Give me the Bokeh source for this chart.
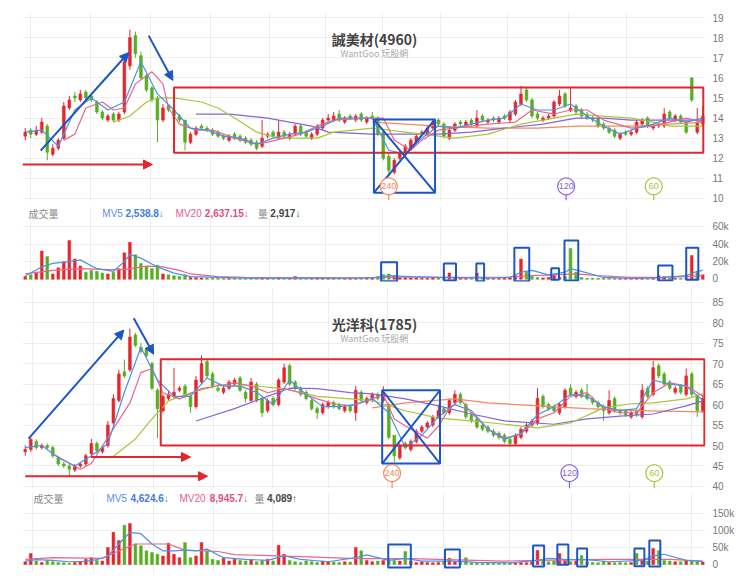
from bokeh.plotting import figure
from bokeh.layouts import column
from bokeh.models import Range1d, FixedTicker, Label, Arrow, NormalHead
from bokeh.embed import file_html
from bokeh.resources import INLINE

# ================= 誠美材 (4960) =================
s1_title = "誠美材(4960)"
s1_open = [13.1,13.4,13.2,13.3,13.6,12.2,12.5,13.0,14.5,15.1,
           14.9,15.3,15.1,14.8,14.3,13.9,14.2,13.9,14.3,16.6,
           18.1,17.1,16.1,15.5,15.0,13.9,14.6,14.4,14.1,13.9,
           12.8,13.2,13.6,13.5,13.4,13.3,13.1,12.9,13.2,13.1,
           13.0,12.9,12.8,12.6,13.1,13.3,13.0,13.3,13.0,13.2,
           13.6,13.3,13.0,13.2,13.5,13.9,13.9,14.2,13.8,14.1,
           13.9,14.2,13.8,14.1,14.0,13.3,12.1,11.3,12.0,12.3,
           12.5,12.8,13.2,13.2,13.5,13.9,13.7,13.0,13.4,13.8,
           13.6,13.9,13.6,14.1,13.8,14.0,13.8,14.1,13.9,14.2,
           14.7,15.4,14.9,14.2,13.9,14.0,14.1,14.7,15.2,14.4,
           14.6,14.4,14.2,14.0,14.0,13.7,13.5,13.4,13.0,13.3,
           13.2,13.3,13.7,14.0,13.5,13.6,13.6,14.3,13.9,14.1,
           13.8,16.0,13.3,13.7]
s1_high = [13.5,13.5,13.6,14.0,13.7,12.7,13.0,14.8,15.1,15.3,
           15.4,15.4,15.2,14.9,14.4,14.2,14.3,14.3,17.0,18.4,
           18.3,17.3,16.2,15.6,15.1,14.7,14.7,14.5,14.2,13.9,
           13.3,13.6,13.7,13.6,13.5,13.4,13.2,13.2,13.3,13.2,
           13.1,13.0,12.9,13.9,13.3,13.4,13.9,13.4,13.3,13.7,
           13.7,13.4,13.3,13.7,14.0,14.2,14.3,14.4,14.1,14.2,
           14.2,14.3,14.1,14.3,14.1,13.4,12.3,12.0,12.4,12.7,
           13.0,13.2,13.4,13.6,13.9,14.0,13.8,13.5,13.8,13.9,
           13.9,14.0,14.4,14.2,14.0,14.1,14.1,14.2,14.4,14.9,
           15.6,15.5,15.0,14.3,14.1,14.2,14.9,15.4,15.3,15.5,
           14.7,14.5,14.3,14.1,14.0,13.8,13.6,13.5,13.3,13.4,
           13.4,13.9,14.0,14.1,13.7,13.8,14.5,14.4,14.2,14.2,
           13.9,16.0,14.5,14.6]
s1_low = [12.9,13.0,13.1,13.2,11.9,12.1,12.4,12.9,14.4,14.8,
          14.8,14.9,14.8,14.2,13.9,13.8,13.8,13.8,14.2,16.4,
          17.0,15.9,15.3,14.8,12.8,13.8,14.3,14.0,13.8,12.4,
          12.7,13.1,13.4,13.3,13.1,13.0,12.9,12.8,12.9,12.8,
          12.7,12.6,12.4,12.5,13.0,13.0,12.9,13.0,12.9,13.1,
          13.1,13.0,12.9,13.1,13.4,13.8,13.8,13.8,13.7,13.9,
          13.8,13.8,13.7,13.9,13.1,11.9,11.1,11.2,11.9,12.2,
          12.4,12.7,13.1,13.1,13.4,13.6,13.0,12.9,13.3,13.6,
          13.5,13.6,13.5,13.8,13.7,13.8,13.7,13.9,13.8,14.1,
          14.6,14.8,14.0,13.9,13.8,13.9,14.0,14.6,14.5,14.3,
          14.2,14.0,13.9,13.8,13.5,13.4,13.2,13.0,12.9,13.1,
          13.1,13.2,13.6,13.5,13.4,13.5,13.5,13.9,13.8,13.7,
          13.2,14.8,13.2,13.6]
s1_close = [13.3,13.2,13.4,13.8,12.3,12.5,12.9,14.6,14.9,15.0,
            15.2,15.0,14.9,14.3,14.0,14.1,13.9,14.2,16.8,18.0,
            17.2,16.0,15.4,14.9,13.9,14.5,14.4,14.1,13.9,12.8,
            13.2,13.5,13.5,13.4,13.2,13.1,13.0,13.1,13.0,12.9,
            12.8,12.7,12.5,13.0,13.2,13.1,13.3,13.1,13.2,13.6,
            13.2,13.1,13.2,13.6,13.9,14.0,14.1,13.9,14.0,14.0,
            14.1,13.9,14.0,14.0,13.2,12.0,11.4,11.9,12.3,12.6,
            12.9,13.1,13.3,13.5,13.8,13.7,13.1,13.4,13.7,13.7,
            13.8,13.7,14.0,13.9,13.9,13.9,14.0,14.0,14.3,14.8,
            15.2,14.9,14.1,14.0,14.0,14.1,14.8,15.1,14.6,14.5,
            14.3,14.1,14.0,13.9,13.6,13.5,13.3,13.1,13.2,13.2,
            13.3,13.8,13.9,13.6,13.6,13.7,14.2,14.0,14.1,13.8,
            13.3,14.9,13.8,14.1]
s1_vol_k = [3,5,8,32,26,6,13,20,44,23,
            15,8,10,9,7,6,8,12,30,42,
            28,18,14,12,16,6,5,4,3,5,
            2,2,1.5,1.5,1,1,1,1,1.5,1,
            1,1,1.5,2,1,1,2,1,1,3,
            1,1,1,2,2,1.5,1,1.5,1,1,
            1,1,1,1.5,3,5,6,4,2,2,
            1.5,1.5,1,1,2,1.5,2,7,2,1.5,
            1,1,7,1.5,1,1,1,1.5,2,4,
            23,8,3,2,1.5,2,5,2,3,35,
            8,2,1,1,1,1,1,1,1,1,
            1,1,1,1,1,4,3,1,1,1,
            1.5,27,8,5]
s1_ma5_days = [0,3,6,9,12,15,18,21,24,27,30,33,36,39,42,45,48,51,54,57,60,63,66,69,72,75,78,81,84,87,90,93,96,99,102,105,108,111,114,117,120,123]
s1_ma5 = [13.3,13.4,12.6,14.4,15.0,14.4,14.8,16.8,15.2,14.4,13.5,13.4,13.1,13.0,12.7,13.0,13.2,13.3,13.6,14.0,14.0,14.0,12.4,12.2,13.0,13.6,13.5,13.7,13.9,14.0,14.7,14.4,14.4,14.7,14.1,13.6,13.2,13.5,13.7,14.0,13.8,14.0]
s1_ma20_days = [7,9,11,14,16,18,20,23,25,26,28,31,34,38,42,44,47,50,53,56,62,65,67,70,72,75,78,84,89,92,96,99,102,105,110,114,120,123]
s1_ma20 = [12.9,13.2,14.5,14.8,14.4,14.5,15.7,16.3,15.7,14.5,13.7,13.4,13.4,13.0,12.7,12.8,13.0,13.2,13.6,13.9,14.0,14.0,12.9,12.4,12.9,13.4,13.5,13.7,13.8,14.4,14.2,14.4,14.4,13.9,13.5,13.6,14.0,13.8]
s1_ma60_days = [16,19,22,24,27,32,35,38,42,46,50,53,56,63,69,78,84,90,100,105,110,114,117,123]
s1_ma60 = [13.8,14.1,14.8,15.0,15.0,14.8,14.5,14.0,13.3,13.0,13.0,13.0,13.3,13.5,13.3,13.0,13.2,13.7,14.2,14.1,14.0,13.8,13.6,13.6]
s1_ma120_days = [31,37,44,52,55,63,69,75,81,87,94,100,105,110,117,123]
s1_ma120 = [14.2,14.2,14.0,13.6,13.3,13.2,13.2,13.2,13.3,13.5,13.7,14.0,14.0,13.9,13.9,13.9]
s1_ma240_days = [63,75,84,93,100,111,123]
s1_ma240 = [13.8,13.6,13.5,13.5,13.6,13.6,13.8]
s1_vma5_days = [0,3,5,8,10,13,16,18,19,21,24,27,30,35,40,50,60,64,66,70,75,80,85,88,90,92,95,98,99,101,105,110,115,120,122,123]
s1_vma5 = [4,14,18,20,22,12,9,20,28,24,14,7,3,2,1.2,1.5,1.2,2,4,3,2,1.5,1.5,2,8,10,5,8,12,9,2,1,1.5,4,9,10]
s1_vma20_days = [0,5,10,15,18,20,22,25,28,30,35,40,50,60,65,70,80,88,92,96,100,104,110,115,120,123]
s1_vma20 = [6,10,12,11,11,13,15,14,10,6,3,2,1.5,1.5,2,2.5,2,2.5,4,5,6,4,2,2,3,4]
s1_vol_names = ["MV5", "MV20", "量"]
s1_vol_values = ["2,538.8↓", "2,637.15↓", "2,917↓"]
s1_price_ticks = [10, 11, 12, 13, 14, 15, 16, 17, 18, 19]
s1_vol_ticks = [0, 20, 40, 60]
s1_vol_tick_labels = {0: "0", 20: "20k", 40: "40k", 60: "60k"}
s1_month_days = [1, 11.9, 22.8, 33.7, 44.4, 54.6, 64.9, 75.3, 87.5, 98.6, 109.1]

# ================= 光洋科 (1785) =================
s2_title = "光洋科(1785)"
s2_open = [48.5,49.0,51.0,49.5,50.0,49.5,47.0,45.5,45.0,44.0,
           45.0,45.5,48.0,50.5,48.5,50.0,55.5,61.0,68.0,68.5,
           77.0,74.0,73.5,70.0,63.5,58.5,61.5,62.0,63.5,64.5,
           62.0,59.5,65.5,70.5,67.5,64.0,63.0,64.0,65.0,66.5,
           63.0,61.0,65.0,61.5,58.5,61.5,60.0,65.5,69.5,65.5,
           64.0,63.0,61.0,59.0,58.0,59.5,60.5,60.0,58.5,59.5,
           58.0,63.0,60.5,61.0,62.5,61.0,60.0,52.5,47.0,50.5,
           49.0,51.0,53.5,54.5,55.0,57.0,59.0,58.0,60.5,62.5,
           60.0,57.5,56.5,55.0,54.5,53.5,53.0,52.5,51.5,50.5,
           52.0,53.5,55.0,55.5,62.0,60.0,59.5,58.0,59.5,64.0,
           62.0,63.5,62.5,61.5,60.5,59.5,58.0,61.5,58.5,58.5,
           57.0,58.5,57.0,64.0,62.5,69.5,67.5,65.5,63.0,64.5,
           62.5,67.5,62.0,58.5]
s2_high = [50.0,52.0,51.5,50.5,50.5,50.0,47.5,46.0,45.5,45.5,
           46.0,48.0,51.6,51.0,50.0,56.0,62.5,68.5,71.0,78.6,
           77.5,75.0,74.0,70.5,64.0,62.5,63.5,69.0,64.5,65.0,
           62.5,67.0,72.0,71.0,68.0,65.0,64.5,66.0,66.5,67.0,
           63.5,66.5,65.5,62.0,61.5,62.0,66.5,70.0,70.0,66.0,
           64.5,63.5,61.5,59.5,60.5,61.0,61.0,60.5,60.0,60.0,
           64.6,63.5,62.0,63.0,63.0,64.5,60.5,52.5,50.5,51.0,
           51.5,54.0,55.0,56.0,57.5,60.0,59.5,61.5,63.5,63.0,
           60.5,58.0,57.0,55.5,55.0,54.0,53.5,53.0,52.0,53.0,
           54.5,55.5,56.5,64.0,62.5,60.5,60.0,60.5,64.0,65.0,
           63.5,64.0,65.0,62.0,61.0,60.0,63.5,62.0,59.0,59.0,
           58.5,59.0,65.0,64.5,70.7,70.0,68.0,66.0,64.5,65.0,
           68.8,68.0,62.5,62.5]
s2_low = [47.5,48.5,49.0,49.0,49.0,47.0,45.0,44.5,42.5,43.5,
          44.5,45.0,47.5,48.0,48.0,49.5,55.0,60.5,66.5,68.0,
          74.0,72.5,71.5,63.5,51.8,58.0,61.0,61.5,63.0,61.5,
          58.0,59.0,65.0,66.5,64.0,63.0,62.5,63.5,64.5,63.0,
          60.5,60.5,60.5,57.0,58.0,59.5,59.5,65.0,64.5,63.5,
          62.0,61.0,58.5,56.5,57.5,59.0,59.0,58.5,58.0,58.0,
          56.0,60.5,60.0,60.5,61.0,60.5,51.5,46.0,46.5,49.0,
          48.5,50.5,53.0,54.0,54.5,56.5,57.5,57.5,60.0,60.0,
          56.5,55.5,54.0,53.5,53.0,52.0,51.5,50.5,49.8,50.0,
          51.5,53.0,54.5,55.0,59.0,58.5,58.0,57.5,59.0,62.0,
          61.5,61.5,61.0,60.0,59.0,56.0,57.5,58.0,57.5,57.0,
          56.5,57.0,56.5,61.5,62.0,66.5,64.5,63.5,62.5,62.5,
          62.0,62.0,57.0,58.0]
s2_close = [49.0,51.5,49.5,50.0,49.5,47.5,45.5,45.0,44.2,45.0,
            45.5,47.5,50.5,48.8,49.5,55.0,61.5,67.5,67.0,76.5,
            74.5,73.0,72.0,64.0,59.0,62.0,62.5,63.0,64.0,62.0,
            59.5,66.0,70.0,67.0,64.5,63.5,64.0,65.5,66.0,63.5,
            61.5,65.5,61.0,58.0,61.0,60.0,66.0,69.0,65.0,64.0,
            62.5,61.5,59.0,58.0,60.0,60.5,59.5,59.0,59.5,58.5,
            63.5,61.0,61.5,62.5,61.5,63.0,52.0,47.5,50.0,49.5,
            51.0,53.5,54.5,55.5,57.0,58.5,58.0,61.0,62.5,60.5,
            57.0,56.0,54.5,54.0,53.5,52.5,52.0,51.0,50.5,52.5,
            54.0,55.0,56.0,61.5,59.5,59.0,58.5,60.0,63.5,62.5,
            63.0,62.0,61.5,60.5,59.5,58.5,61.0,58.5,58.0,57.5,
            58.0,57.5,63.5,62.0,69.0,67.0,65.0,64.0,64.0,63.0,
            67.0,62.5,58.5,61.5]
s2_vol_k = [8,32,10,6,12,8,6,5,4,6,
            8,15,20,12,10,50,94,70,115,120,
            60,55,40,35,30,25,62,30,20,64,
            20,25,64,40,15,12,18,10,15,12,
            10,14,8,12,15,10,56,30,12,8,
            6,10,8,6,10,8,7,6,8,7,
            50,40,12,8,10,12,15,12,10,38,
            10,6,8,6,5,6,8,18,8,6,
            20,5,5,4,5,4,4,5,6,5,
            6,5,8,41,15,8,10,32,12,8,
            10,26,8,6,5,10,6,5,6,5,
            6,32,15,10,47,40,12,10,8,8,
            10,12,8,7]
s2_ma5_days = s1_ma5_days
s2_ma5 = [49.5,50.0,47.0,45.0,47.5,50.5,63.0,74.0,66.0,62.0,62.0,66.5,64.5,64.5,63.0,60.0,66.0,62.5,59.5,59.5,60.0,61.5,58.0,49.5,52.5,57.0,60.0,58.5,54.0,51.5,53.0,57.5,59.5,62.5,62.0,59.5,58.5,59.0,66.0,65.0,64.5,61.0]
s2_ma20_days = [5,10,12,15,19,21,23,25,28,32,35,38,41,44,47,50,53,56,59,62,65,67,70,73,75,77,79,81,84,87,90,93,96,99,102,105,108,111,114,117,120,123]
s2_ma20 = [48.0,44.2,45.6,52.0,60.4,67.8,68.8,62.9,61.4,63.9,64.6,65.3,64.6,62.9,63.9,62.9,61.4,60.2,59.7,60.9,62.4,56.5,54.0,51.8,54.7,59.0,61.4,58.0,54.0,51.8,52.8,56.5,58.0,62.0,62.9,59.0,58.0,58.0,62.9,65.3,64.6,62.1]
s2_ma60_days = [16,20,23,26,30,35,41,47,53,59,63,69,75,81,87,93,99,105,110,114,120,123]
s2_ma60 = [47.4,51.6,56.5,60.9,62.9,64.6,64.6,63.9,62.0,61.4,61.0,58.5,56.7,56.0,55.2,54.3,55.5,59.2,60.2,60.4,61.4,62.6]
s2_ma120_days = [31,38,44,48,53,59,63,69,75,81,87,96,102,108,114,120,123]
s2_ma120 = [56.0,59.0,62.0,64.0,63.9,62.9,62.6,61.4,59.7,57.7,56.0,55.2,56.5,57.2,57.7,59.7,60.9]
s2_ma240_days = [63,69,78,84,93,102,111,123]
s2_ma240 = [59.2,60.4,61.4,60.4,59.7,59.0,58.5,58.2]
s2_vma5_days = [0,2,5,8,11,13,15,17,19,21,23,25,27,29,31,33,36,40,44,47,50,55,60,62,66,69,72,78,82,88,93,95,98,102,106,112,114,116,120,123]
s2_vma5 = [10,14,12,8,9,14,25,60,94,90,60,40,40,42,40,45,20,15,12,25,15,8,20,28,12,18,10,10,6,5,12,18,15,14,8,12,25,30,12,9]
s2_vma20_days = [0,5,14,17,20,26,29,35,38,50,59,63,70,75,87,93,105,117,123]
s2_vma20 = [15,20,18,40,60,60,42,38,29,23,18,17,17,15,10,12,15,15,10]
s2_vol_names = ["MV5", "MV20", "量"]
s2_vol_values = ["4,624.6↓", "8,945.7↓", "4,089↑"]
s2_price_ticks = [40, 45, 50, 55, 60, 65, 70, 75, 80, 85]
s2_vol_ticks = [0, 50, 100, 150]
s2_vol_tick_labels = {0: "0", 50: "50k", 100: "100k", 150: "150k"}
s2_month_days = [1.3, 12.4, 23.3, 34.2, 44.9, 55.1, 65.7, 76.0, 87.9, 99.1, 109.7, 121.0]

for arrs in [(s1_open, s1_high, s1_low, s1_close, s1_vol_k), (s2_open, s2_high, s2_low, s2_close, s2_vol_k)]:
    for a in arrs:
        assert len(a) == 124, len(a)
for a, b in [(s1_ma5_days, s1_ma5), (s1_ma20_days, s1_ma20), (s1_ma60_days, s1_ma60), (s1_ma120_days, s1_ma120),
             (s1_ma240_days, s1_ma240), (s1_vma5_days, s1_vma5), (s1_vma20_days, s1_vma20),
             (s2_ma5_days, s2_ma5), (s2_ma20_days, s2_ma20), (s2_ma60_days, s2_ma60), (s2_ma120_days, s2_ma120),
             (s2_ma240_days, s2_ma240), (s2_vma5_days, s2_vma5), (s2_vma20_days, s2_vma20)]:
    assert len(a) == len(b), (len(a), len(b))

# ================= styling =================
RED = "#e5262c"
GREEN = "#58ad22"
C_MA5 = "#4d92e6"
C_MA20 = "#e8668f"
C_MA60 = "#a8c63c"
C_MA120 = "#8a63d8"
C_MA240 = "#f3895c"
ANN_RED = "#e2262b"
ANN_BLUE = "#1d55c9"
GRID = "#eeeeee"
W = 740
CJK = "Noto Sans CJK TC"
LAT = "Liberation Sans"
N = len(s1_close)


def base_fig(h, y0, y1, bt, bb, yticks, month_days, overrides=None):
    p = figure(width=W, height=h, x_range=Range1d(-0.5, N - 0.5), y_range=Range1d(y0, y1),
               x_axis_location=None, y_axis_location="right", toolbar_location=None,
               output_backend="svg", title=None,
               min_border_left=22, min_border_right=35, min_border_top=bt, min_border_bottom=bb)
    p.outline_line_color = None
    p.background_fill_color = "white"
    ax = p.yaxis[0]
    ax.ticker = FixedTicker(ticks=yticks)
    ax.axis_line_color = None
    ax.major_tick_line_color = None
    ax.minor_tick_line_color = None
    ax.major_tick_out = 0
    ax.major_tick_in = 0
    ax.minor_tick_out = 0
    ax.major_label_standoff = 7
    ax.major_label_text_font = LAT
    ax.major_label_text_font_size = "10px"
    ax.major_label_text_color = "#777777"
    if overrides:
        ax.major_label_overrides = overrides
    p.ygrid.grid_line_color = GRID
    p.xgrid.ticker = FixedTicker(ticks=month_days)
    p.xgrid.grid_line_color = GRID
    return p


def price_panel(h, y0, y1, bt, bb, yticks, month_days, o, hi, lo, c, mas, title, title_y, sub_y,
                redbox, bluebox, blue_arrows, red_arrows, markers, stem_bottom, marker_y):
    p = base_fig(h, y0, y1, bt, bb, yticks, month_days)
    xs = list(range(len(c)))
    cols = [RED if cc >= oo else GREEN for oo, cc in zip(o, c)]
    tops = [max(oo, cc) for oo, cc in zip(o, c)]
    bots = [min(oo, cc) for oo, cc in zip(o, c)]
    p.segment(x0=xs, y0=lo, x1=xs, y1=hi, color=cols, line_width=1)
    p.vbar(x=xs, width=0.5, top=tops, bottom=bots, fill_color=cols, line_color=cols, line_width=0.6)
    for days, vals, col, lw in mas:
        p.line(x=days, y=vals, color=col, line_width=lw)
    l, r, t, b = redbox
    p.quad(left=[l], right=[r], top=[t], bottom=[b], fill_alpha=0, line_color=ANN_RED, line_width=2)
    l, r, t, b = bluebox
    p.quad(left=[l], right=[r], top=[t], bottom=[b], fill_alpha=0, line_color=ANN_BLUE, line_width=2)
    p.segment(x0=[l, l], y0=[t, b], x1=[r, r], y1=[b, t], color=ANN_BLUE, line_width=2)
    for (xa, ya, xb, yb) in blue_arrows:
        p.add_layout(Arrow(end=NormalHead(size=9, fill_color=ANN_BLUE, line_color=ANN_BLUE),
                           x_start=xa, y_start=ya, x_end=xb, y_end=yb, line_color=ANN_BLUE, line_width=2))
    for (xa, ya, xb, yb) in red_arrows:
        p.add_layout(Arrow(end=NormalHead(size=9, fill_color=ANN_RED, line_color=ANN_RED),
                           x_start=xa, y_start=ya, x_end=xb, y_end=yb, line_color=ANN_RED, line_width=2))
    for (mx, txt, col) in markers:
        p.segment(x0=[mx], y0=[marker_y], x1=[mx], y1=[stem_bottom], color=col, line_width=1.2)
        p.scatter(x=[mx], y=[marker_y], size=17, marker="circle", fill_color="white", line_color=col, line_width=1.2)
        p.add_layout(Label(x=mx, y=marker_y, text=txt, text_align="center", text_baseline="middle",
                           text_font=LAT, text_font_size="9px", text_color=col))
    p.add_layout(Label(x=63.4, y=title_y, text=title, text_align="center", text_baseline="middle",
                       text_font=CJK, text_font_size="14px", text_font_style="bold", text_color="#444444"))
    p.add_layout(Label(x=63.4, y=sub_y, text="WantGoo 玩股網", text_align="center", text_baseline="middle",
                       text_font=CJK, text_font_size="9px", text_color="#aaaaaa"))
    return p


def vol_panel(h, y0, y1, bt, bb, yticks, overrides, month_days, c, vol, vma5d, vma5, vma20d, vma20,
              names, values, text_y, name_x, value_x, boxes):
    p = base_fig(h, y0, y1, bt, bb, yticks, month_days, overrides)
    xs = list(range(len(vol)))
    cols = [RED if (i == 0 or c[i] >= c[i - 1]) else GREEN for i in range(len(c))]
    p.vbar(x=xs, width=0.5, top=vol, bottom=0, fill_color=cols, line_color=cols, line_width=0.5)
    p.line(x=vma20d, y=vma20, color=C_MA20, line_width=1.2)
    p.line(x=vma5d, y=vma5, color=C_MA5, line_width=1.2)
    for (l, r, t, b) in boxes:
        p.quad(left=[l], right=[r], top=[t], bottom=[b], fill_alpha=0, line_color=ANN_BLUE, line_width=2)
    p.add_layout(Label(x=name_x[0], y=text_y, text="成交量", text_baseline="middle",
                       text_font=CJK, text_font_size="10px", text_color="#888888"))
    name_cols = ["#5b8fe8", "#e3608f", "#888888"]
    val_cols = ["#3f7be0", "#dd4f84", "#444444"]
    name_fonts = [LAT, LAT, CJK]
    for nm, vv, nx, vx, nc, vc, nf in zip(names, values, name_x[1:], value_x, name_cols, val_cols, name_fonts):
        p.add_layout(Label(x=nx, y=text_y, text=nm, text_baseline="middle",
                           text_font=nf, text_font_size="10px", text_color=nc))
        p.add_layout(Label(x=vx, y=text_y, text=vv, text_baseline="middle",
                           text_font=LAT, text_font_size="10px", text_font_style="bold", text_color=vc))
    return p


p1 = price_panel(204, 9.9, 19.25, 12, 4, s1_price_ticks, s1_month_days,
                 s1_open, s1_high, s1_low, s1_close,
                 [(s1_ma240_days, s1_ma240, C_MA240, 1.2), (s1_ma120_days, s1_ma120, C_MA120, 1.2),
                  (s1_ma60_days, s1_ma60, C_MA60, 1.2), (s1_ma20_days, s1_ma20, C_MA20, 1.2),
                  (s1_ma5_days, s1_ma5, C_MA5, 1.2)],
                 s1_title, 17.95, 17.2,
                 (27.0, 123.1, 15.52, 12.28), (63.3, 74.4, 13.93, 10.29),
                 [(2.8, 12.38, 18.8, 17.26), (22.4, 18.1, 26.8, 15.87)],
                 [(-0.5, 11.69, 23.1, 11.69)],
                 [(66.0, "240", C_MA240), (98.2, "120", C_MA120), (114.1, "60", C_MA60)],
                 9.9, 10.6)

v1 = vol_panel(79, -2.6, 82.8, 2, 2, s1_vol_ticks, s1_vol_tick_labels, s1_month_days,
               s1_close, s1_vol_k, s1_vma5_days, s1_vma5, s1_vma20_days, s1_vma20,
               s1_vol_names, s1_vol_values, 75.2, [0.6, 14.0, 27.3, 42.2], [18.2, 32.6, 44.5],
               [(64.6, 67.5, 19.4, -2.2), (76.0, 78.2, 18, -1.5), (81.9, 83.3, 18, -2.2),
                (88.8, 91.5, 35.8, -2.2), (95.5, 96.9, 12.4, -0.5), (97.9, 100.4, 44, -1.5),
                (114.9, 117.5, 15.6, -1.5), (120.0, 122.2, 35.8, -0.5)])

p2 = price_panel(209, 39.5, 88.6, 4, 4, s2_price_ticks, s2_month_days,
                 s2_open, s2_high, s2_low, s2_close,
                 [(s2_ma240_days, s2_ma240, C_MA240, 1.2), (s2_ma120_days, s2_ma120, C_MA120, 1.2),
                  (s2_ma60_days, s2_ma60, C_MA60, 1.2), (s2_ma20_days, s2_ma20, C_MA20, 1.2),
                  (s2_ma5_days, s2_ma5, C_MA5, 1.2)],
                 s2_title, 79.8, 76.1,
                 (24.6, 123.3, 71.1, 50.0), (64.8, 75.3, 63.5, 45.6),
                 [(0.6, 51.7, 17.9, 78.2), (19.7, 81.1, 23.3, 72.3)],
                 [(11.9, 47.2, 30.0, 47.2), (0.0, 42.5, 33.1, 42.5)],
                 [(66.6, "240", C_MA240), (98.8, "120", C_MA120), (114.2, "60", C_MA60)],
                 39.5, 43.25)

v2 = vol_panel(91, -26.3, 210.5, 0, 10, s2_vol_ticks, s2_vol_tick_labels, s2_month_days,
               s2_close, s2_vol_k, s2_vma5_days, s2_vma5, s2_vma20_days, s2_vma20,
               s2_vol_names, s2_vol_values, 193, [1.5, 14.75, 28.0, 41.6], [19.1, 33.5, 43.9],
               [(65.9, 70.0, 58.5, -8.8), (76.2, 78.9, 43.9, -8.8), (92.2, 94.2, 55.6, -5.8),
                (96.6, 98.6, 58.5, -1), (100.2, 102.0, 46.8, -5.8), (110.6, 112.4, 46.8, -5.3),
                (113.3, 115.3, 70.2, -5.8)])

layout = column(p1, v1, p2, v2, spacing=0)
open("out.html", "w").write(file_html(layout, INLINE))
